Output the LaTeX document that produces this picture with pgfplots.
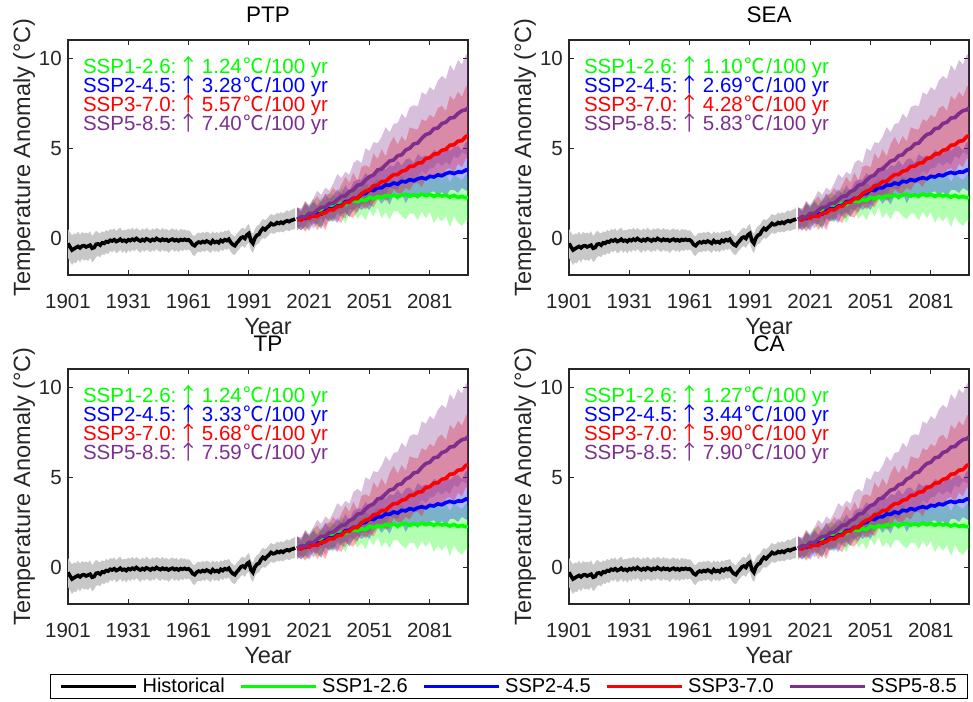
\documentclass[border=0pt]{standalone}
\usepackage{pgfplots}
\pgfplotsset{compat=1.18}
\usepackage{pgfplotstable}
\usepgfplotslibrary{fillbetween}
\usepackage{fontspec}
\setmainfont{Liberation Sans}
\newfontfamily\cjk{Noto Sans CJK SC}
\definecolor{sgreen}{RGB}{0,255,0}
\definecolor{sblue}{RGB}{0,0,255}
\definecolor{sred}{RGB}{255,0,0}
\definecolor{spurple}{RGB}{126,47,142}
\definecolor{bandgray}{RGB}{200,200,200}
\definecolor{axisgray}{RGB}{38,38,38}

\pgfplotstableread{
year m lo hi
1901 -0.25 -1.05 0.55
1902 -0.45 -1.25 0.35
1903 -0.62 -1.45 0.20
1904 -0.55 -1.30 0.30
1905 -0.48 -1.35 0.25
1906 -0.42 -1.15 0.40
1907 -0.50 -1.30 0.22
1908 -0.40 -1.10 0.38
1909 -0.38 -1.20 0.30
1910 -0.45 -1.15 0.35
1911 -0.40 -1.22 0.28
1912 -0.35 -1.05 0.42
1913 -0.52 -1.30 0.15
1914 -0.48 -1.18 0.30
1915 -0.30 -1.00 0.45
1916 -0.28 -0.95 0.35
1917 -0.35 -1.02 0.30
1918 -0.22 -0.85 0.42
1919 -0.25 -0.90 0.35
1920 -0.15 -0.78 0.50
1921 -0.18 -0.85 0.40
1922 -0.08 -0.65 0.55
1923 -0.12 -0.75 0.48
1924 -0.05 -0.62 0.58
1925 -0.15 -0.80 0.42
1926 -0.10 -0.72 0.55
1927 -0.02 -0.60 0.62
1928 -0.12 -0.78 0.45
1929 -0.08 -0.65 0.50
1930 -0.15 -0.82 0.48
1931 -0.05 -0.62 0.56
1932 -0.10 -0.75 0.50
1933 -0.02 -0.58 0.62
1934 -0.08 -0.70 0.48
1935 0.02 -0.55 0.60
1936 -0.06 -0.68 0.52
1937 -0.12 -0.78 0.45
1938 -0.04 -0.62 0.58
1939 -0.10 -0.72 0.48
1940 0.00 -0.60 0.62
1941 -0.05 -0.65 0.52
1942 -0.12 -0.75 0.45
1943 -0.03 -0.62 0.58
1944 -0.08 -0.70 0.50
1945 0.02 -0.55 0.60
1946 -0.05 -0.68 0.55
1947 -0.10 -0.72 0.48
1948 -0.02 -0.60 0.60
1949 -0.08 -0.70 0.50
1950 -0.04 -0.65 0.55
1951 -0.12 -0.78 0.45
1952 -0.06 -0.66 0.52
1953 -0.02 -0.58 0.58
1954 -0.10 -0.72 0.48
1955 -0.05 -0.62 0.55
1956 -0.12 -0.75 0.42
1957 -0.04 -0.60 0.55
1958 -0.08 -0.68 0.50
1959 -0.03 -0.58 0.52
1960 -0.08 -0.65 0.45
1961 -0.05 -0.58 0.48
1962 -0.15 -0.68 0.38
1963 -0.32 -0.88 0.20
1964 -0.38 -0.95 0.15
1965 -0.25 -0.78 0.28
1966 -0.18 -0.70 0.35
1967 -0.22 -0.75 0.30
1968 -0.15 -0.65 0.38
1969 -0.20 -0.72 0.32
1970 -0.12 -0.62 0.40
1971 -0.18 -0.70 0.35
1972 -0.25 -0.78 0.25
1973 -0.10 -0.60 0.42
1974 -0.20 -0.72 0.30
1975 -0.15 -0.65 0.38
1976 -0.22 -0.75 0.28
1977 -0.08 -0.58 0.42
1978 -0.15 -0.68 0.35
1979 -0.05 -0.55 0.45
1980 -0.10 -0.62 0.42
1981 -0.02 -0.52 0.50
1982 -0.20 -0.72 0.30
1983 -0.32 -0.85 0.20
1984 -0.38 -0.90 0.12
1985 -0.22 -0.72 0.30
1986 -0.10 -0.60 0.40
1987 0.05 -0.45 0.55
1988 0.10 -0.40 0.62
1989 0.02 -0.50 0.52
1990 0.22 -0.30 0.72
1991 0.30 -0.22 0.82
1992 -0.10 -0.62 0.42
1993 -0.25 -0.78 0.28
1994 0.05 -0.45 0.55
1995 0.20 -0.30 0.72
1996 0.25 -0.25 0.75
1997 0.45 -0.05 0.98
1998 0.58 0.05 1.10
1999 0.50 0.00 1.02
2000 0.62 0.10 1.12
2001 0.72 0.22 1.25
2002 0.85 0.35 1.38
2003 0.78 0.28 1.30
2004 0.80 0.30 1.32
2005 0.90 0.40 1.45
2006 0.85 0.35 1.38
2007 0.92 0.42 1.48
2008 0.86 0.35 1.40
2009 0.95 0.45 1.50
2010 1.00 0.48 1.58
2011 0.95 0.42 1.50
2012 1.02 0.50 1.60
2013 1.05 0.52 1.65
2014 1.10 0.55 1.70
}\hist

\pgfplotstableread{
year m1 l1 u1 m2 l2 u2 m3 l3 u3 m4 l4 u4
2015 1.13 0.48 1.73 1.08 0.63 1.73 1.07 0.47 1.77 1.07 0.67 1.72
2017 1.12 0.70 1.48 1.18 0.47 1.60 1.04 0.67 1.49 1.23 0.48 1.69
2019 1.28 0.49 2.01 1.13 0.70 1.92 1.19 0.40 2.09 1.22 0.68 2.08
2021 1.27 0.76 1.76 1.29 0.45 1.81 1.15 0.64 1.66 1.41 1.02 1.88
2023 1.42 1.04 2.23 1.26 0.85 2.05 1.29 0.91 2.10 1.40 0.56 2.23
2025 1.39 0.69 1.86 1.40 0.83 1.81 1.24 0.48 2.35 1.58 0.84 2.66
2027 1.55 0.63 2.28 1.37 0.54 2.10 1.42 0.79 2.03 1.74 1.16 2.43
2029 1.68 1.19 2.08 1.54 1.14 2.49 1.44 0.49 2.45 1.75 0.67 2.84
2031 1.64 0.98 2.55 1.67 0.96 2.20 1.62 1.05 2.49 1.96 1.18 2.66
2033 1.81 0.93 2.44 1.66 1.08 2.41 1.60 1.16 2.82 1.97 0.95 3.08
2035 1.82 1.37 2.31 1.82 0.88 2.74 1.78 1.02 2.55 2.17 1.50 3.58
2037 1.97 1.20 2.82 1.85 1.35 2.49 1.81 0.88 2.98 2.35 1.28 3.37
2039 1.90 0.86 2.62 2.06 1.49 2.97 2.01 1.41 3.43 2.38 1.12 3.71
2041 2.05 1.39 2.48 2.08 1.20 2.62 2.03 1.25 3.11 2.62 1.66 3.55
2043 2.11 1.53 2.96 2.24 1.59 3.15 2.23 1.18 3.66 2.71 1.60 4.20
2045 2.06 1.11 2.87 2.24 1.78 3.27 2.23 1.51 3.21 2.97 1.46 4.37
2047 2.16 1.39 2.78 2.47 1.60 3.27 2.50 1.86 3.98 3.00 1.95 4.20
2049 2.12 1.03 3.11 2.51 1.77 3.63 2.64 1.63 4.07 3.25 1.95 5.01
2051 2.30 1.59 2.85 2.71 1.61 3.41 2.71 1.88 3.95 3.44 1.94 4.86
2053 2.23 1.25 3.05 2.67 2.00 3.69 2.94 1.74 4.73 3.53 2.39 5.35
2055 2.34 1.74 3.32 2.83 2.25 3.77 2.97 2.15 4.41 3.81 2.27 5.29
2057 2.27 1.15 2.91 2.82 1.93 4.08 3.17 2.37 4.96 3.86 2.47 5.64
2059 2.40 1.46 3.31 2.98 2.22 3.81 3.18 2.11 4.57 4.09 2.31 6.18
2061 2.34 1.08 3.46 2.96 1.89 4.07 3.39 2.20 5.24 4.30 2.87 5.90
2063 2.42 1.54 3.16 3.09 2.40 4.02 3.55 2.74 5.65 4.36 2.78 6.36
2065 2.32 1.52 3.17 3.03 2.13 4.33 3.56 2.53 5.21 4.60 2.72 6.41
2067 2.42 1.25 3.48 3.18 2.52 4.05 3.74 2.54 5.69 4.65 3.13 6.92
2069 2.47 1.08 3.15 3.15 1.97 4.39 3.79 2.82 5.39 4.91 3.04 6.68
2071 2.36 1.40 3.40 3.28 2.39 4.45 4.01 2.67 6.17 5.01 3.49 7.29
2073 2.43 1.40 3.39 3.21 2.40 4.20 4.02 3.06 6.08 5.25 3.24 7.39
2075 2.37 1.02 3.19 3.32 2.20 4.68 4.19 3.10 6.05 5.30 3.39 7.34
2077 2.48 1.51 3.66 3.38 2.60 4.51 4.21 2.85 6.62 5.56 3.75 8.11
2079 2.39 1.15 3.19 3.32 2.27 4.62 4.44 3.36 6.50 5.77 3.57 7.97
2081 2.46 1.50 3.52 3.46 2.55 4.49 4.49 3.54 6.86 5.84 3.89 8.40
2083 2.35 0.87 3.33 3.42 2.64 4.92 4.69 3.37 6.71 6.09 3.94 8.21
2085 2.45 1.25 3.64 3.54 2.40 4.81 4.70 3.46 7.22 6.13 4.23 8.75
2087 2.37 0.95 3.27 3.49 2.59 4.68 4.90 3.34 7.37 6.38 4.04 9.01
2089 2.41 1.27 3.58 3.61 2.34 5.12 4.95 3.82 7.07 6.45 4.26 8.84
2091 2.31 0.65 3.14 3.68 2.70 4.87 5.18 3.92 7.91 6.68 4.09 9.62
2093 2.40 1.27 3.55 3.61 2.71 5.07 5.20 3.67 7.68 6.71 4.58 9.31
2095 2.29 0.89 3.40 3.70 2.54 5.13 5.40 4.15 8.13 6.93 4.45 9.89
2097 2.34 0.72 3.26 3.69 2.82 4.89 5.43 3.96 7.86 7.09 4.81 9.65
2099 2.27 1.03 3.56 3.81 2.67 5.38 5.67 4.48 8.45 7.14 4.67 10.21
2100 2.30 0.95 3.40 3.78 2.68 5.22 5.70 4.30 8.41 7.25 4.75 10.15
}\scen

\pgfplotsset{
  panel/.style={
    scale only axis, width=400pt, height=235pt,
    xmin=1901, xmax=2100, ymin=-2, ymax=11,
    xtick={1901,1931,1961,1991,2021,2051,2081}, ytick={0,5,10},
    axis line style={line width=1.1pt, draw=axisgray},
    every tick/.style={line width=1.1pt, draw=axisgray},
    major tick length=5pt, tick align=inside,
    /pgf/number format/1000 sep={},
    /pgf/number format/assume math mode=true,
    ticklabel style={font=\fontsize{20.5}{24}\selectfont, text=axisgray},
    xticklabel style={inner sep=0pt, anchor=north, yshift=-19pt},
    yticklabel style={inner sep=0pt, anchor=east, xshift=-6pt},
    xlabel={Year}, ylabel={Temperature Anomaly (°C)},
    label style={font=\fontsize{23.5}{28}\selectfont, text=axisgray},
    xlabel style={at={(axis description cs:0.5,-0.2213)}, anchor=center, inner sep=0pt},
    ylabel style={at={(axis description cs:-0.11,0.5)}, anchor=center, inner sep=0pt},
    title style={font=\fontsize{22.5}{26}\selectfont, at={(axis description cs:0.5,1.047)}, anchor=base, inner sep=0pt},
    legend image code/.code={\draw[#1, line width=3.4pt] (0pt,0pt) -- (75pt,0pt);},
  }
}

\newcommand{\panelplots}{%
  \addplot[name path=hl, draw=none, forget plot] table[x=year,y=lo]{\hist};
  \addplot[name path=hu, draw=none, forget plot] table[x=year,y=hi]{\hist};
  \addplot[fill=bandgray, draw=none, forget plot] fill between[of=hl and hu];
  \addplot[name path=la, draw=none, forget plot] table[x=year,y=l1]{\scen};
  \addplot[name path=ua, draw=none, forget plot] table[x=year,y=u1]{\scen};
  \addplot[fill=sgreen, fill opacity=0.3, draw=none, forget plot] fill between[of=la and ua];
  \addplot[name path=lb, draw=none, forget plot] table[x=year,y=l2]{\scen};
  \addplot[name path=ub, draw=none, forget plot] table[x=year,y=u2]{\scen};
  \addplot[fill=sblue, fill opacity=0.3, draw=none, forget plot] fill between[of=lb and ub];
  \addplot[name path=lc, draw=none, forget plot] table[x=year,y=l3]{\scen};
  \addplot[name path=uc, draw=none, forget plot] table[x=year,y=u3]{\scen};
  \addplot[fill=sred, fill opacity=0.3, draw=none, forget plot] fill between[of=lc and uc];
  \addplot[name path=ld, draw=none, forget plot] table[x=year,y=l4]{\scen};
  \addplot[name path=ud, draw=none, forget plot] table[x=year,y=u4]{\scen};
  \addplot[fill=spurple, fill opacity=0.3, draw=none, forget plot] fill between[of=ld and ud];
  \addplot[black, line width=3.6pt, mark=none] table[x=year,y=m]{\hist};
  \addplot[sgreen, line width=3.6pt, mark=none] table[x=year,y=m1]{\scen};
  \addplot[sblue, line width=3.6pt, mark=none] table[x=year,y=m2]{\scen};
  \addplot[sred, line width=3.6pt, mark=none] table[x=year,y=m3]{\scen};
  \addplot[spurple, line width=3.6pt, mark=none] table[x=year,y=m4]{\scen};
}

\newcommand{\rate}[2]{#1:\hspace{2pt}{\cjk ↑}\hspace{3pt}#2\hspace{1.5pt}{\cjk ℃}\hspace{1.5pt}/100 yr}
\newcommand{\ann}[4]{%
  \node[anchor=base west, inner sep=0pt, text=sgreen, font=\fontsize{20.5}{24}\selectfont] at (axis description cs:0.037,0.858) {\rate{SSP1-2.6}{#1}};
  \node[anchor=base west, inner sep=0pt, text=sblue, font=\fontsize{20.5}{24}\selectfont] at (axis description cs:0.037,0.777) {\rate{SSP2-4.5}{#2}};
  \node[anchor=base west, inner sep=0pt, text=sred, font=\fontsize{20.5}{24}\selectfont] at (axis description cs:0.037,0.695) {\rate{SSP3-7.0}{#3}};
  \node[anchor=base west, inner sep=0pt, text=spurple, font=\fontsize{20.5}{24}\selectfont] at (axis description cs:0.037,0.613) {\rate{SSP5-8.5}{#4}};
}

\begin{document}
\begin{tikzpicture}
\begin{axis}[panel, at={(68pt,426pt)}, anchor=south west, title={PTP}]
\panelplots
\ann{1.24}{3.28}{5.57}{7.40}
\end{axis}
\begin{axis}[panel, at={(569pt,426pt)}, anchor=south west, title={SEA}]
\panelplots
\ann{1.10}{2.69}{4.28}{5.83}
\end{axis}
\begin{axis}[panel, at={(68pt,97pt)}, anchor=south west, title={TP},
  legend columns=5,
  legend style={at={(axis description cs:1.1025,-0.351)}, anchor=center,
    draw=black, line width=0.8pt, inner xsep=9pt, inner ysep=2pt,
    font=\fontsize{20}{24}\selectfont,
    nodes={inner sep=2pt},
    /tikz/every odd column/.append style={column sep=3pt},
    /tikz/every even column/.append style={column sep=12pt}}]
\panelplots
\ann{1.24}{3.33}{5.68}{7.59}
\legend{Historical, SSP1-2.6, SSP2-4.5, SSP3-7.0, SSP5-8.5}
\end{axis}
\begin{axis}[panel, at={(569pt,97pt)}, anchor=south west, title={CA}]
\panelplots
\ann{1.27}{3.44}{5.90}{7.90}
\end{axis}
\pgfresetboundingbox
\useasboundingbox (0,0) rectangle (973pt,701pt);
\end{tikzpicture}
\end{document}
